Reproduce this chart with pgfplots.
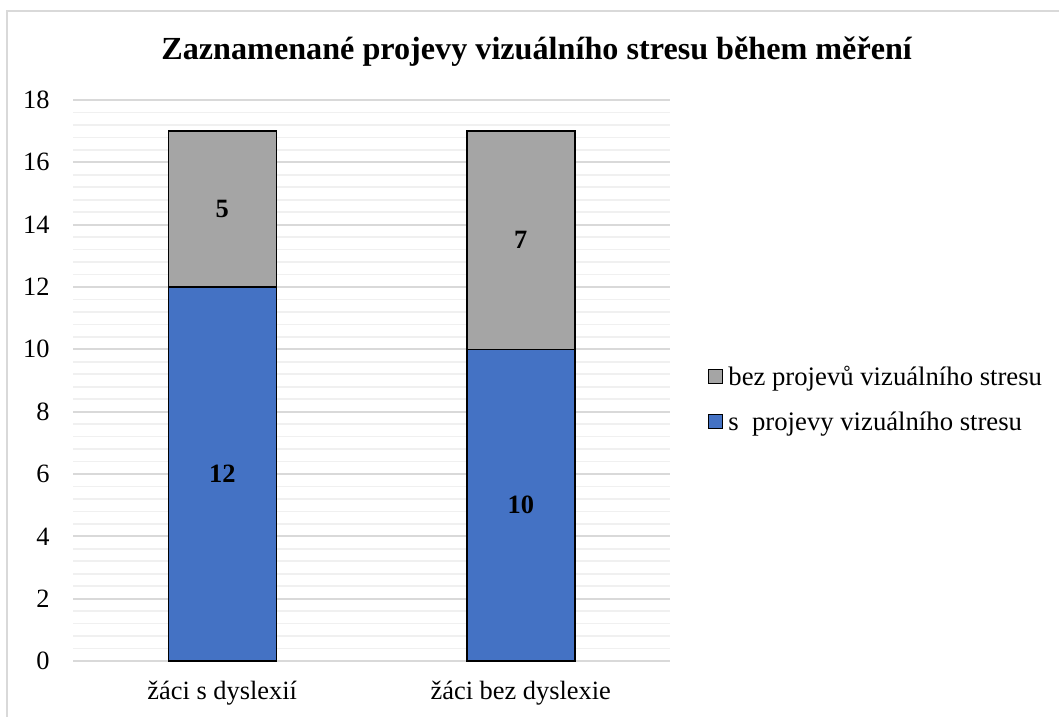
\documentclass[border=0pt]{standalone}
\usepackage{pgfplots}
\usepackage{pgfplotstable}
\pgfplotsset{compat=1.18}
\usepackage{fontspec}
\setmainfont{Liberation Serif}
\definecolor{gridmaj}{RGB}{217,217,217}
\definecolor{gridmin}{RGB}{240,240,240}
\definecolor{barblue}{RGB}{68,114,196}
\definecolor{bargray}{RGB}{165,165,165}

\pgfplotstableread{
x v
0 12
1 10
}\withstress
\pgfplotstableread{
x v
0 5
1 7
}\withoutstress

\begin{document}
\begin{tikzpicture}[x=1bp,y=1bp]
\path[use as bounding box] (0,0) rectangle (1059,-717);
\draw[line width=2bp, gridmaj] (7,-717) -- (7,-11) -- (1059,-11);
\begin{axis}[
  at={(73bp,-661bp)}, anchor=south west,
  width=597bp, height=561bp, scale only axis,
  xmin=-0.5, xmax=1.5, ymin=0, ymax=18,
  ytick={0,2,...,18}, minor y tick num=4,
  ymajorgrids, yminorgrids,
  major grid style={line width=2bp, gridmaj},
  minor grid style={line width=1.6bp, gridmin},
  axis line style={draw=none},
  major tick length=0pt, minor tick length=0pt,
  /pgf/number format/assume math mode=true,
  xtick={0,1}, xticklabels={žáci s dyslexií, žáci bez dyslexie},
  ticklabel style={font=\fontsize{26.5}{30}\selectfont, text=black},
  yticklabel style={xshift=-20bp},
  xticklabel style={yshift=-17bp},
  ybar stacked, bar width=108bp,
  title={\textbf{Zaznamenané projevy vizuálního stresu během měření}},
  title style={at={(rel axis cs:0.777,1)}, anchor=center, yshift=42bp, font=\fontsize{32.3}{36}\selectfont},
  reverse legend,
  legend style={at={(rel axis cs:1.064,0.467)}, anchor=west, draw=none, fill=none,
    inner sep=0pt, font=\fontsize{26.8}{30}\selectfont, row sep=21bp,
    /tikz/every even column/.append style={column sep=0pt}},
  legend cell align=left,
  legend image code/.code={\draw[#1,/tikz/.cd,draw=black,line width=1bp] (0bp,-7bp) rectangle (14bp,7bp);},
  visualization depends on={\thisrow{v} \as \val},
  nodes near coords={\textbf{\pgfmathprintnumber[assume math mode=true]{\val}}},
  every node near coord/.append style={anchor=center, font=\fontsize{26.5}{30}\selectfont},
]
\addplot[fill=barblue, draw=black, line width=1.5bp] table[x=x,y=v] {\withstress};
\addplot[fill=bargray, draw=black, line width=1.5bp] table[x=x,y=v] {\withoutstress};
\legend{\hspace{3bp}s\ \ projevy vizuálního stresu, \hspace{3bp}bez projevů vizuálního stresu}
\end{axis}
\end{tikzpicture}
\end{document}
